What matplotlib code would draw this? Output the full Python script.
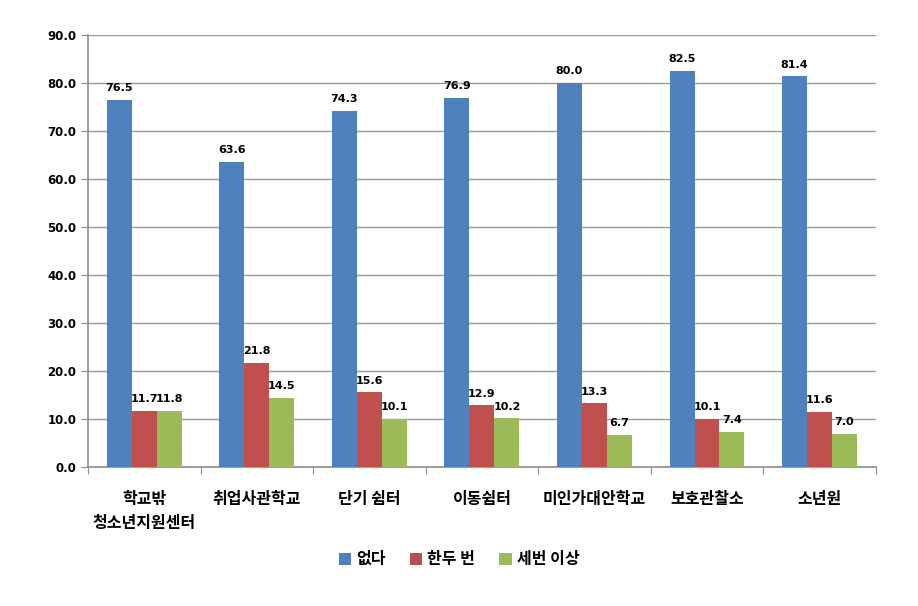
import numpy as np
import matplotlib.pyplot as plt

plt.rcParams['font.family'] = ['Noto Sans CJK KR', 'DejaVu Sans']

categories = ['학교밖\n청소년지원센터', '취업사관학교', '단기 쉼터', '이동쉼터',
              '미인가대안학교', '보호관찰소', '소년원']
series_names = ['없다', '한두 번', '세번 이상']
none_vals = [76.5, 63.6, 74.3, 76.9, 80.0, 82.5, 81.4]
once_twice = [11.7, 21.8, 15.6, 12.9, 13.3, 10.1, 11.6]
three_plus = [11.8, 14.5, 10.1, 10.2, 6.7, 7.4, 7.0]
colors = ['#4F81BD', '#C0504D', '#9BBB59']

fig = plt.figure(figsize=(9.18, 6.06), dpi=100)
ax = fig.add_axes([0.096, 0.229, 0.858, 0.713])

x = np.arange(len(categories))
w = 0.222
for i, (vals, name, c) in enumerate(zip([none_vals, once_twice, three_plus], series_names, colors)):
    pos = x + (i - 1) * w
    ax.bar(pos, vals, w, color=c, label=name, zorder=3)
    for p, v in zip(pos, vals):
        ax.text(p, v + 1.4, f'{v:.1f}', ha='center', va='bottom',
                fontsize=8, fontweight='bold', family='DejaVu Sans')

ax.set_xlim(-0.5, len(categories) - 0.5)
ax.set_ylim(0, 90)
ax.set_yticks(np.arange(0, 91, 10))
ax.set_yticklabels([f'{t:.1f}' for t in np.arange(0, 91, 10)],
                   fontsize=8.5, fontweight='bold', family='DejaVu Sans')
ax.yaxis.grid(True, color='#999999', linewidth=1, zorder=0)

ax.set_xticks(np.arange(-0.5, len(categories), 1))
ax.set_xticklabels([])
ax.set_xticks(x, minor=True)
ax.set_xticklabels(categories, minor=True, fontsize=11.5, fontweight='bold',
                   va='top', linespacing=1.6)
ax.tick_params(axis='x', which='minor', length=0, pad=17)
ax.tick_params(axis='x', which='major', length=5, color='#8c8c8c')
ax.tick_params(axis='y', length=5, color='#8c8c8c')

for s in ['top', 'right']:
    ax.spines[s].set_visible(False)
for s in ['left', 'bottom']:
    ax.spines[s].set_color('#8c8c8c')
    ax.spines[s].set_linewidth(1.2)

fig.legend(loc='center', bbox_to_anchor=(0.5, 0.077), ncol=3, frameon=False,
           prop={'size': 11.5, 'weight': 'bold'}, handlelength=0.8, handleheight=0.8,
           handletextpad=0.3, columnspacing=1.5)

fig.savefig('out.png', dpi=100)
